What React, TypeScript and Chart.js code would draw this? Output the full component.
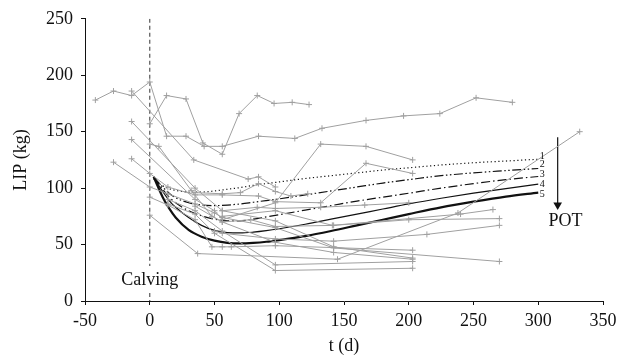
import { useEffect, useRef } from "react";
import { Chart, registerables } from "chart.js";
Chart.register(...registerables);

// ---- axis ranges / ticks ----
const xRange = [-50, 350];
const yRange = [0, 250];
const tickStep = 50;

// ---- individual animals (t in days, LIP in kg) ----
const animalA = [[-42,178],[-28,186],[-14,182],[0,194],[13,146],[28,146],[42,137],[56,137],[84,146],[112,144],[133,153],[167,160],[196,164],[224,166],[252,180],[280,176]];
const animalB = [[0,157],[13,182],[28,179],[41,140],[56,130],[69,166],[83,182],[96,175],[110,176],[123,174]];
const animalC = [[-14,186],[34,125],[76,108],[84,110],[97,101]];
const animalD = [[-14,159],[35,100],[56,80],[97,71],[142,48],[203,38]];
const animalE = [[-14,143],[35,90],[50,80],[56,72],[97,87],[132,139],[167,137],[203,125]];
const animalF = [[-14,126],[0,113],[14,101],[35,94],[56,94],[84,93],[97,88],[132,87],[167,122],[203,113]];
const animalG = [[0,76],[37,42],[145,37],[238,78],[332,150]];
const animalH = [[-28,123],[0,101],[14,95],[35,86],[50,78],[56,74],[97,65],[142,47],[270,35]];
const animalI = [[0,139],[7,137],[32,98],[48,75],[56,70],[97,52],[142,43],[203,37]];
const animalJ = [[0,92],[14,85],[35,72],[48,48],[56,48],[63,48],[97,49],[203,45]];
const animalK = [[14,90],[35,80],[56,62],[97,32],[203,35]];
const animalL = [[14,86],[35,77],[50,60],[97,27],[203,29]];
const animalM = [[50,62],[56,60],[97,55],[142,53],[214,59],[270,67]];
const animalN = [[35,84],[56,70],[78,72],[97,66],[142,67],[200,72],[270,73]];
const animalO = [[56,80],[83,83],[97,82],[132,83],[166,85],[200,87]];
const animalP = [[35,96],[56,95],[70,96],[84,104],[97,97],[109,93],[122,95]];
const animalQ = [[56,75],[97,80],[141,67],[240,77],[265,81]];
const animals = [animalA,animalB,animalC,animalD,animalE,animalF,animalG,animalH,animalI,animalJ,animalK,animalL,animalM,animalN,animalO,animalP,animalQ];

// ---- model curves 1..5 ----
const modelT = [3,6,10,15,20,30,40,50,60,70,80,90,100,120,140,160,180,200,225,250,275,300];
const model1 = [108,105,102,99.5,98,96.5,96.5,97.5,99,100.5,102.5,104,105.5,108.5,111,113.5,116,118,120.5,122.5,124,125.6];
const model2 = [110,106,101,95.5,91.5,87,85,84.5,85,86,87.5,89,90.5,94,97.5,101,104.5,107.5,111,113.5,115.5,117.4];
const model3 = [110,105,99,92,87,80,75.5,72.5,71,71,72.5,74.5,76.5,80.5,84.5,88.5,92,95.5,100,104,107.5,110.3];
const model4 = [110,104,97,89,83,74,67,62.5,60.5,60.3,61,62.3,64,68,72.5,77,81.5,86,91,95.5,99.5,103.5];
const model5 = [110,102,92,82,74,63,57,53.5,51.5,51,51.5,52.5,54,57.5,62,67,72,77,83,88,92.5,96];

// ---- calving line and annotations ----
const calvingLine = [[0,250],[0,31],null,[0,7],[0,0]];
const arrowLine = [[315,145],[315,86]];
const arrowHead = [[315,85]];
const curveLabels = ["1","2","3","4","5"];
const curveLabelPos = [[303,128.5],[303,120.6],[303,112.4],[303,103.6],[303,94.8]];
const potLabel = { text: "POT", pos: [321, 71] };
const calvingLabel = { text: "Calving", pos: [0, 18.5] };

const SERIF = "'Liberation Serif', 'Times New Roman', serif";

const toXY = (arr: any[]) => arr.map((p) => (p ? { x: p[0], y: p[1] } : { x: null, y: null }));

const textPlugin = {
  id: "texts",
  afterDatasetsDraw(chart: any) {
    const { ctx, scales } = chart;
    const sx = scales.x, sy = scales.y;
    ctx.save();
    ctx.fillStyle = "#111";
    ctx.textAlign = "center";
    ctx.textBaseline = "middle";
    ctx.font = `10px ${SERIF}`;
    curveLabels.forEach((t, i) => {
      ctx.fillText(t, sx.getPixelForValue(curveLabelPos[i][0]), sy.getPixelForValue(curveLabelPos[i][1]));
    });
    ctx.font = `18px ${SERIF}`;
    ctx.fillText(potLabel.text, sx.getPixelForValue(potLabel.pos[0]), sy.getPixelForValue(potLabel.pos[1]));
    ctx.fillText(calvingLabel.text, sx.getPixelForValue(calvingLabel.pos[0]), sy.getPixelForValue(calvingLabel.pos[1]));
    ctx.restore();
  },
};

export default function App() {
  const ref = useRef<HTMLCanvasElement | null>(null);
  useEffect(() => {
    document.body.style.margin = "0";
    if (!ref.current) return;
    const gray = "rgb(160,160,160)";
    const animalSets = animals.map((a) => ({
      data: toXY(a),
      borderColor: gray,
      borderWidth: 1,
      pointStyle: "cross",
      pointRadius: 3,
      pointBorderColor: gray,
      pointBorderWidth: 1,
      fill: false,
      tension: 0,
    }));
    const modelStyle = (ys: number[], dash: number[], width: number) => ({
      data: modelT.map((t, i) => ({ x: t, y: ys[i] })),
      borderColor: "#111",
      borderWidth: width,
      borderDash: dash,
      pointRadius: 0,
      fill: false,
      cubicInterpolationMode: "monotone",
    });
    const chart = new Chart(ref.current, {
      type: "line",
      data: {
        datasets: [
          ...animalSets,
          modelStyle(model1, [1.2, 2.6], 1.2),
          modelStyle(model2, [9, 2.5, 1.5, 2.5, 1.5, 2.5], 1.2),
          modelStyle(model3, [9, 3, 1.5, 3], 1.2),
          modelStyle(model4, [], 1.2),
          modelStyle(model5, [], 2.2),
          {
            data: toXY(calvingLine),
            borderColor: "#555",
            borderWidth: 1.2,
            borderDash: [4, 3],
            pointRadius: 0,
            spanGaps: false,
            fill: false,
          },
          {
            data: toXY(arrowLine),
            borderColor: "#111",
            borderWidth: 1.2,
            pointRadius: 0,
            fill: false,
          },
          {
            data: toXY(arrowHead),
            showLine: false,
            pointStyle: "triangle",
            pointRotation: 180,
            pointRadius: 5,
            pointBackgroundColor: "#111",
            pointBorderColor: "#111",
            pointBorderWidth: 0,
          },
        ] as any,
      },
      options: {
        animation: false,
        responsive: true,
        maintainAspectRatio: false,
        layout: { padding: { top: 17, right: 19, left: 0, bottom: 0 } },
        plugins: { legend: { display: false }, tooltip: { enabled: false } },
        scales: {
          x: {
            type: "linear",
            min: xRange[0],
            max: xRange[1],
            ticks: { stepSize: tickStep, color: "#111", font: { family: SERIF, size: 18 }, padding: 5, maxRotation: 0 },
            grid: { display: true, drawOnChartArea: false, drawTicks: true, tickLength: 4, color: "#111" },
            border: { display: true, color: "#111", width: 1 },
            title: { display: true, text: "t (d)", color: "#111", font: { family: SERIF, size: 18 }, padding: { top: 0, bottom: 3 } },
            afterFit: (s: any) => { s.height = 59; },
          },
          y: {
            type: "linear",
            min: yRange[0],
            max: yRange[1],
            ticks: { stepSize: tickStep, color: "#111", font: { family: SERIF, size: 18 }, padding: 8 },
            grid: { display: true, drawOnChartArea: false, drawTicks: true, tickLength: 4, color: "#111" },
            border: { display: true, color: "#111", width: 1 },
            title: { display: true, text: "LIP (kg)", color: "#111", font: { family: SERIF, size: 18 }, padding: { top: 10, bottom: 0 } },
            afterFit: (s: any) => { s.width = 85; },
          },
        },
      } as any,
      plugins: [textPlugin],
    });
    return () => chart.destroy();
  }, []);
  return (
    <div style={{ width: 622, height: 360, position: "relative" }}>
      <canvas ref={ref} />
    </div>
  );
}
